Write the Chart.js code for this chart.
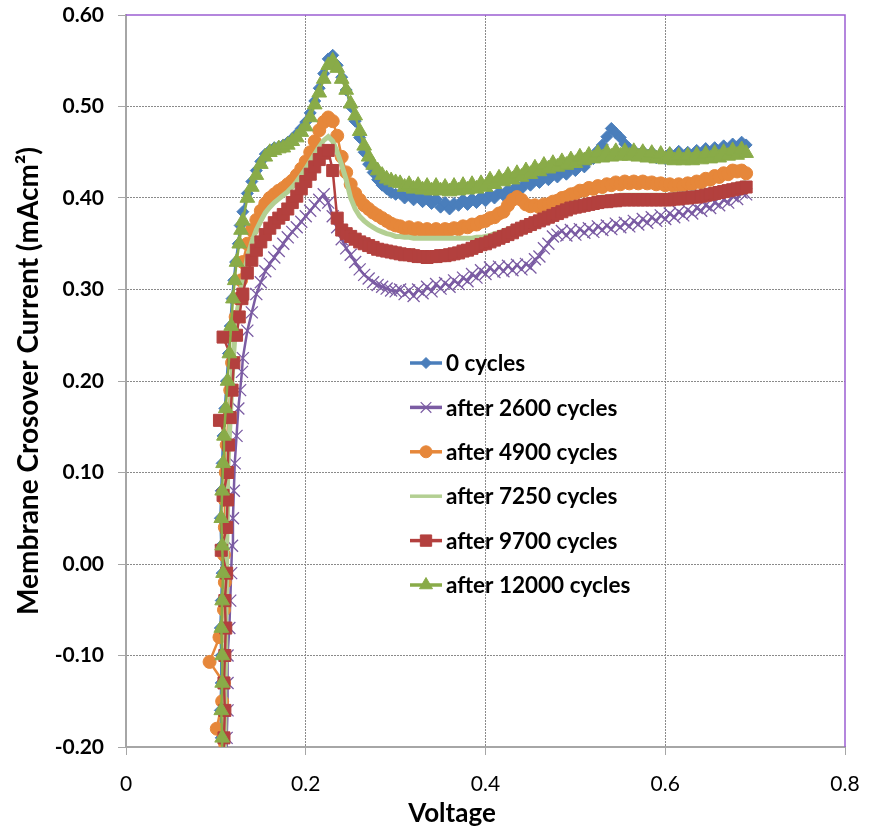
<!DOCTYPE html>
<html>
<head>
<meta charset="utf-8">
<script src="https://cdn.jsdelivr.net/npm/chart.js@4.4.1/dist/chart.umd.min.js"></script>
<style>
  html, body { margin: 0; padding: 0; background: #fff; }
  #wrap { width: 874px; height: 830px; }
</style>
</head>
<body>
<div id="wrap"><canvas id="c" width="874" height="830"></canvas></div>
<script>
  "use strict";

  // voltage sweep (V) shared by every run after the steep rise
  const VOLTAGE = [
    0.130, 0.135, 0.140, 0.145, 0.150, 0.155, 0.160, 0.165, 0.170, 0.175,
    0.180, 0.185, 0.190, 0.195, 0.200, 0.205, 0.210, 0.215, 0.220, 0.225,
    0.230, 0.235, 0.240, 0.245, 0.250, 0.255, 0.260, 0.265, 0.270, 0.275,
    0.280, 0.285, 0.290, 0.295, 0.300,
    0.305, 0.310, 0.315, 0.320, 0.325, 0.330, 0.335, 0.340, 0.345, 0.350,
    0.355, 0.360, 0.365, 0.370, 0.375, 0.380, 0.385, 0.390, 0.395, 0.400,
    0.405, 0.410, 0.415, 0.420, 0.425, 0.430, 0.435, 0.440, 0.445, 0.450,
    0.455, 0.460, 0.465, 0.470, 0.475, 0.480, 0.485, 0.490, 0.495, 0.500,
    0.505, 0.510, 0.515, 0.520, 0.525, 0.530, 0.535, 0.540, 0.545, 0.550,
    0.555, 0.560, 0.565, 0.570, 0.575, 0.580, 0.585, 0.590, 0.595, 0.600,
    0.605, 0.610, 0.615, 0.620, 0.625, 0.630, 0.635, 0.640, 0.645, 0.650,
    0.655, 0.660, 0.665, 0.670, 0.675, 0.680, 0.685, 0.690,
  ];

  // steep onset, [voltage, current] pairs
  const RISE_0 = [
    [0.106, -0.22], [0.106, -0.19], [0.105, -0.16], [0.106, -0.13], [0.106, -0.10],
    [0.105, -0.07], [0.106, -0.04], [0.107, -0.01], [0.106, 0.02], [0.105, 0.05],
    [0.106, 0.08], [0.107, 0.11], [0.108, 0.14], [0.110, 0.17], [0.112, 0.20],
    [0.114, 0.23], [0.116, 0.26], [0.118, 0.29], [0.120, 0.31], [0.122, 0.33],
    [0.125, 0.35], [0.127, 0.37],
  ];
  const RISE_2600 = [
    [0.112, -0.22], [0.112, -0.19], [0.113, -0.16], [0.113, -0.13], [0.113, -0.10],
    [0.115, -0.07], [0.116, -0.04], [0.117, -0.01], [0.118, 0.02], [0.119, 0.05],
    [0.120, 0.08], [0.121, 0.11], [0.123, 0.14], [0.125, 0.17], [0.127, 0.19],
    [0.129, 0.21],
  ];
  const RISE_4900 = [
    [0.108, -0.22], [0.101, -0.18], [0.107, -0.15], [0.109, -0.13], [0.093, -0.107],
    [0.104, -0.08], [0.109, -0.05], [0.110, -0.02], [0.109, 0.01], [0.110, 0.04],
    [0.110, 0.07], [0.111, 0.10], [0.112, 0.13], [0.114, 0.16], [0.116, 0.19],
    [0.118, 0.22], [0.120, 0.25], [0.122, 0.27], [0.125, 0.29], [0.128, 0.31],
  ];
  const RISE_7250 = [
    [0.109, -0.22], [0.110, -0.18], [0.110, -0.14], [0.111, -0.10], [0.111, -0.06],
    [0.112, -0.02], [0.112, 0.02], [0.113, 0.06], [0.113, 0.10], [0.115, 0.14],
    [0.117, 0.18], [0.119, 0.22], [0.122, 0.26], [0.126, 0.29],
  ];
  const RISE_9700 = [
    [0.109, -0.22], [0.109, -0.19], [0.110, -0.16], [0.109, -0.13], [0.110, -0.10],
    [0.111, -0.07], [0.110, -0.04], [0.112, -0.01], [0.106, 0.015], [0.112, 0.04],
    [0.113, 0.07], [0.108, 0.075], [0.113, 0.10], [0.114, 0.13], [0.104, 0.157],
    [0.116, 0.16], [0.118, 0.19], [0.120, 0.22], [0.108, 0.248], [0.123, 0.25],
    [0.126, 0.27], [0.129, 0.29],
  ];
  const RISE_12000 = [
    [0.107, -0.22], [0.107, -0.19], [0.106, -0.16], [0.107, -0.13], [0.107, -0.10],
    [0.106, -0.07], [0.107, -0.04], [0.108, -0.01], [0.107, 0.02], [0.106, 0.05],
    [0.107, 0.08], [0.108, 0.11], [0.109, 0.14], [0.111, 0.17], [0.113, 0.20],
    [0.115, 0.23], [0.117, 0.26], [0.119, 0.29], [0.121, 0.31], [0.123, 0.33],
    [0.126, 0.35], [0.128, 0.365],
  ];

  // crossover current (mA cm^-2) on the VOLTAGE sweep
  const CURRENT_0 = [
    0.385, 0.405, 0.418, 0.430, 0.440, 0.448, 0.452, 0.455, 0.456, 0.458,
    0.461, 0.465, 0.470, 0.476, 0.483, 0.493, 0.506, 0.520, 0.536, 0.552,
    0.556, 0.545, 0.532, 0.518, 0.500, 0.484, 0.466, 0.450, 0.437, 0.428,
    0.420, 0.414, 0.410, 0.406, 0.404,
    0.405, 0.400, 0.404, 0.398, 0.402, 0.396, 0.401, 0.394, 0.399, 0.390,
    0.395, 0.388, 0.394, 0.392, 0.398, 0.393, 0.399, 0.395, 0.401, 0.397,
    0.404, 0.400, 0.406, 0.403, 0.409, 0.407, 0.413, 0.410, 0.417, 0.414,
    0.421, 0.417, 0.423, 0.420, 0.426, 0.423, 0.429, 0.426, 0.433, 0.430,
    0.437, 0.434, 0.441, 0.443, 0.452, 0.458, 0.467, 0.476, 0.471, 0.466,
    0.459, 0.454, 0.452, 0.447, 0.451, 0.446, 0.450, 0.444, 0.448, 0.443,
    0.449, 0.444, 0.451, 0.446, 0.450, 0.445, 0.452, 0.447, 0.454, 0.449,
    0.455, 0.450, 0.457, 0.453, 0.459, 0.455, 0.461, 0.458,
  ];
  const CURRENT_2600 = [
    0.225, 0.255, 0.275, 0.295, 0.308, 0.320, 0.328, 0.335, 0.342, 0.350,
    0.357, 0.363, 0.368, 0.374, 0.380, 0.386, 0.392, 0.398, 0.404, 0.395,
    0.380, 0.368, 0.355, 0.345, 0.338, 0.330, 0.322, 0.316, 0.312, 0.308,
    0.305, 0.303, 0.301, 0.299, 0.298,
    0.300, 0.295, 0.299, 0.293, 0.300, 0.296, 0.303, 0.298, 0.306, 0.301,
    0.307, 0.303, 0.310, 0.306, 0.313, 0.309, 0.317, 0.313, 0.321, 0.317,
    0.324, 0.319, 0.325, 0.320, 0.326, 0.321, 0.327, 0.322, 0.328, 0.324,
    0.333, 0.336, 0.345, 0.350, 0.358, 0.360, 0.364, 0.359, 0.365, 0.360,
    0.366, 0.362, 0.367, 0.363, 0.369, 0.365, 0.370, 0.366, 0.372, 0.368,
    0.373, 0.369, 0.375, 0.371, 0.377, 0.373, 0.379, 0.375, 0.381, 0.377,
    0.383, 0.379, 0.385, 0.381, 0.387, 0.383, 0.389, 0.386, 0.392, 0.389,
    0.395, 0.392, 0.398, 0.395, 0.402, 0.399, 0.406, 0.404,
  ];
  const CURRENT_4900 = [
    0.330, 0.350, 0.365, 0.376, 0.386, 0.394, 0.400, 0.404, 0.408, 0.411,
    0.415, 0.419, 0.425, 0.432, 0.440, 0.450, 0.462, 0.474, 0.483, 0.488,
    0.484, 0.468, 0.445, 0.428, 0.415, 0.405, 0.398, 0.392, 0.388, 0.384,
    0.381, 0.378, 0.375, 0.372, 0.370,
    0.369, 0.366, 0.368, 0.365, 0.367, 0.364, 0.366, 0.364, 0.366, 0.364,
    0.366, 0.365, 0.367, 0.366, 0.369, 0.368, 0.371, 0.371, 0.374, 0.375,
    0.378, 0.379, 0.383, 0.385, 0.392, 0.398, 0.401, 0.398, 0.393, 0.391,
    0.392, 0.390, 0.393, 0.393, 0.396, 0.397, 0.400, 0.401, 0.404, 0.405,
    0.408, 0.408, 0.411, 0.410, 0.413, 0.412, 0.415, 0.414, 0.417, 0.415,
    0.418, 0.416, 0.418, 0.416, 0.418, 0.416, 0.417, 0.415, 0.416, 0.414,
    0.415, 0.413, 0.415, 0.413, 0.416, 0.415, 0.418, 0.417, 0.421, 0.420,
    0.424, 0.423, 0.427, 0.426, 0.430, 0.429, 0.430, 0.427,
  ];
  const CURRENT_7250 = [
    0.310, 0.335, 0.352, 0.365, 0.375, 0.384, 0.390, 0.395, 0.399, 0.403,
    0.407, 0.412, 0.418, 0.425, 0.432, 0.440, 0.448, 0.456, 0.463, 0.467,
    0.462, 0.450, 0.436, 0.420, 0.400, 0.388, 0.380, 0.375, 0.371, 0.368,
    0.365, 0.363, 0.361, 0.360, 0.358,
    0.358, 0.357, 0.357, 0.356, 0.356, 0.356, 0.356, 0.356, 0.356, 0.356,
    0.356, 0.356, 0.356, 0.356, 0.356, 0.356, 0.356, 0.357, 0.357, 0.358,
    0.359, 0.361, 0.362, 0.364, 0.366, 0.368, 0.370, 0.372, 0.374, 0.376,
    0.378, 0.380, 0.382, 0.384, 0.386, 0.388, 0.390, 0.392, 0.394, 0.395,
    0.396, 0.397, 0.398, 0.399, 0.400, 0.401, 0.401, 0.402, 0.402, 0.403,
    0.403, 0.403, 0.403, 0.403, 0.403, 0.403, 0.403, 0.403, 0.403, 0.403,
    0.403, 0.404, 0.404, 0.405, 0.405, 0.406, 0.406, 0.407, 0.408, 0.409,
    0.410, 0.411, 0.412, 0.413, 0.414, 0.415, 0.416, 0.417,
  ];
  const CURRENT_9700 = [
    0.295, 0.318, 0.332, 0.343, 0.352, 0.360, 0.367, 0.373, 0.378, 0.382,
    0.388, 0.395, 0.402, 0.410, 0.418, 0.426, 0.434, 0.442, 0.449, 0.452,
    0.430, 0.378, 0.365, 0.361, 0.358, 0.355, 0.352, 0.350, 0.348, 0.346,
    0.344, 0.343, 0.342, 0.341, 0.340,
    0.339, 0.338, 0.338, 0.337, 0.336, 0.336, 0.335, 0.336, 0.336, 0.337,
    0.337, 0.338, 0.339, 0.340, 0.342, 0.343, 0.345, 0.347, 0.349, 0.350,
    0.352, 0.354, 0.356, 0.358, 0.360, 0.362, 0.365, 0.367, 0.369, 0.371,
    0.373, 0.375, 0.377, 0.379, 0.381, 0.383, 0.385, 0.387, 0.389, 0.390,
    0.391, 0.392, 0.393, 0.394, 0.395, 0.396, 0.396, 0.397, 0.397, 0.398,
    0.398, 0.398, 0.398, 0.398, 0.398, 0.398, 0.398, 0.398, 0.398, 0.398,
    0.398, 0.399, 0.399, 0.400, 0.400, 0.401, 0.401, 0.402, 0.403, 0.404,
    0.405, 0.406, 0.407, 0.408, 0.409, 0.410, 0.411, 0.412,
  ];
  const CURRENT_12000 = [
    0.375, 0.400, 0.412, 0.425, 0.437, 0.445, 0.450, 0.452, 0.454, 0.455,
    0.458, 0.462, 0.466, 0.472, 0.478, 0.488, 0.502, 0.515, 0.530, 0.545,
    0.550, 0.542, 0.530, 0.518, 0.503, 0.490, 0.473, 0.457, 0.445, 0.436,
    0.430, 0.425, 0.421, 0.419, 0.417,
    0.416, 0.412, 0.415, 0.410, 0.414, 0.409, 0.413, 0.408, 0.413, 0.408,
    0.412, 0.407, 0.413, 0.408, 0.414, 0.409, 0.415, 0.410, 0.416, 0.412,
    0.420, 0.415, 0.422, 0.418, 0.425, 0.420, 0.427, 0.423, 0.430, 0.426,
    0.433, 0.429, 0.436, 0.432, 0.438, 0.434, 0.440, 0.436, 0.442, 0.438,
    0.445, 0.441, 0.447, 0.443, 0.449, 0.444, 0.450, 0.445, 0.451, 0.446,
    0.451, 0.446, 0.451, 0.445, 0.450, 0.444, 0.449, 0.443, 0.448, 0.442,
    0.447, 0.441, 0.446, 0.441, 0.446, 0.441, 0.447, 0.442, 0.448, 0.443,
    0.449, 0.444, 0.450, 0.446, 0.452, 0.447, 0.453, 0.449,
  ];

  const LABELS = [
    "0 cycles",
    "after 2600 cycles",
    "after 4900 cycles",
    "after 7250 cycles",
    "after 9700 cycles",
    "after 12000 cycles",
  ];

  const FONT = "Lato, 'Open Sans', sans-serif";

  // radius: marker on the curves, key: marker in the legend
  const SERIES = [
    { rise: RISE_0, current: CURRENT_0, color: "#4a7ebb", style: "rectRot", radius: 6, key: 5.5 },
    { rise: RISE_2600, current: CURRENT_2600, color: "#7b5ca3", style: "crossRot", radius: 8.5, key: 7.5 },
    { rise: RISE_4900, current: CURRENT_4900, color: "#e6873a", style: "circle", radius: 6.5, key: 6 },
    { rise: RISE_7250, current: CURRENT_7250, color: "#b3cf92", style: false, radius: 0, key: 0 },
    { rise: RISE_9700, current: CURRENT_9700, color: "#b3403e", style: "rect", radius: 8.5, key: 8 },
    { rise: RISE_12000, current: CURRENT_12000, color: "#89ab48", style: "triangle", radius: 8.5, key: 7.5 },
  ];

  function buildPoints(rise, current) {
    const head = rise.map(([x, y]) => ({ x, y }));
    const tail = VOLTAGE.map((x, k) => ({ x, y: current[k] }));
    return head.concat(tail);
  }

  const datasets = SERIES.map((s, k) => ({
    label: LABELS[k],
    data: buildPoints(s.rise, s.current),
    showLine: true,
    borderColor: s.color,
    backgroundColor: s.color,
    borderWidth: k === 3 ? 5 : 2.5,
    pointStyle: s.style,
    pointRadius: s.radius,
    pointBackgroundColor: s.color,
    pointBorderColor: s.color,
    pointBorderWidth: s.style === "crossRot" ? 1.3 : 1,
    order: SERIES.length - 1 - k,
    clip: 0,
  }));

  const near = (a, b) => Math.abs(a - b) < 1e-6;

  // purple frame on the top and right of the plot area, plus the x title
  const framePlugin = {
    id: "frame",
    afterDatasetsDraw(chart) {
      const { ctx, chartArea: a } = chart;
      ctx.save();
      ctx.strokeStyle = "#9c5fd2";
      ctx.lineWidth = 1.5;
      ctx.beginPath();
      ctx.moveTo(a.left, a.top);
      ctx.lineTo(a.right, a.top);
      ctx.lineTo(a.right, a.bottom);
      ctx.stroke();

      ctx.fillStyle = "#000";
      ctx.font = "bold 26px " + FONT;
      ctx.textAlign = "center";
      ctx.textBaseline = "middle";
      ctx.fillText("Voltage", 452, 814);
      ctx.restore();
    },
  };

  // line-plus-marker legend floating inside the plot
  const legendPlugin = {
    id: "innerLegend",
    afterDatasetsDraw(chart) {
      const ctx = chart.ctx;
      const x0 = 410, x1 = 442, rowTop = 363, rowGap = 44.4;
      ctx.save();
      SERIES.forEach((s, k) => {
        const y = rowTop + k * rowGap;
        ctx.strokeStyle = s.color;
        ctx.lineWidth = 3.5;
        ctx.beginPath();
        ctx.moveTo(x0, y);
        ctx.lineTo(x1, y);
        ctx.stroke();
        if (s.style) {
          ctx.fillStyle = s.color;
          ctx.strokeStyle = s.color;
          ctx.lineWidth = s.style === "crossRot" ? 1.2 : 1;
          Chart.helpers.drawPoint(ctx, { pointStyle: s.style, radius: s.key, borderWidth: ctx.lineWidth, rotation: 0 }, (x0 + x1) / 2, y);
        }
        ctx.fillStyle = "#000";
        ctx.font = "bold 22.5px " + FONT;
        ctx.textBaseline = "middle";
        ctx.textAlign = "left";
        ctx.fillText(LABELS[k], x1 + 4, y + 1);
      });
      ctx.restore();
    },
  };

  new Chart(document.getElementById("c"), {
    type: "scatter",
    data: { datasets },
    plugins: [framePlugin, legendPlugin],
    options: {
      responsive: false,
      animation: false,
      layout: { padding: { top: 15, right: 29, left: 0, bottom: 0 } },
      plugins: { legend: { display: false }, tooltip: { enabled: false } },
      scales: {
        x: {
          type: "linear",
          min: 0,
          max: 0.8,
          afterFit(scale) {
            scale.height = 83;
            scale.paddingLeft = 0;
            scale.paddingRight = 0;
          },
          border: { display: true, color: "#a6a6a6", width: 2, dash: [2, 1] },
          grid: {
            color: (c) => (c.tick && (near(c.tick.value, 0) || near(c.tick.value, 0.8)) ? "rgba(0,0,0,0)" : "#8a8a8a"),
            tickColor: "#a6a6a6",
            tickLength: 8,
            lineWidth: 1,
          },
          ticks: {
            stepSize: 0.2,
            color: "#000",
            padding: 17,
            font: { family: FONT, size: 21 },
            callback: (v) => (near(v, 0) ? "0" : v.toFixed(1)),
          },
        },
        y: {
          min: -0.2,
          max: 0.6,
          afterFit(scale) {
            scale.width = 126;
            scale.paddingTop = 0;
            scale.paddingBottom = 0;
          },
          border: { display: true, color: "#a6a6a6", width: 2, dash: [2, 1] },
          grid: {
            color: (c) => (c.tick && (near(c.tick.value, -0.2) || near(c.tick.value, 0.6)) ? "rgba(0,0,0,0)" : "#8a8a8a"),
            tickColor: "#a6a6a6",
            tickLength: 8,
            lineWidth: 1,
          },
          ticks: {
            stepSize: 0.1,
            color: "#000",
            padding: 14,
            font: { family: FONT, size: 21, weight: "bold" },
            callback: (v) => v.toFixed(2),
          },
          title: {
            display: true,
            text: "Membrane Crosover Current (mAcm²)",
            color: "#000",
            font: { family: FONT, size: 28, weight: "bold" },
            padding: { top: 12, bottom: 12 },
          },
        },
      },
    },
  });
</script>
</body>
</html>
